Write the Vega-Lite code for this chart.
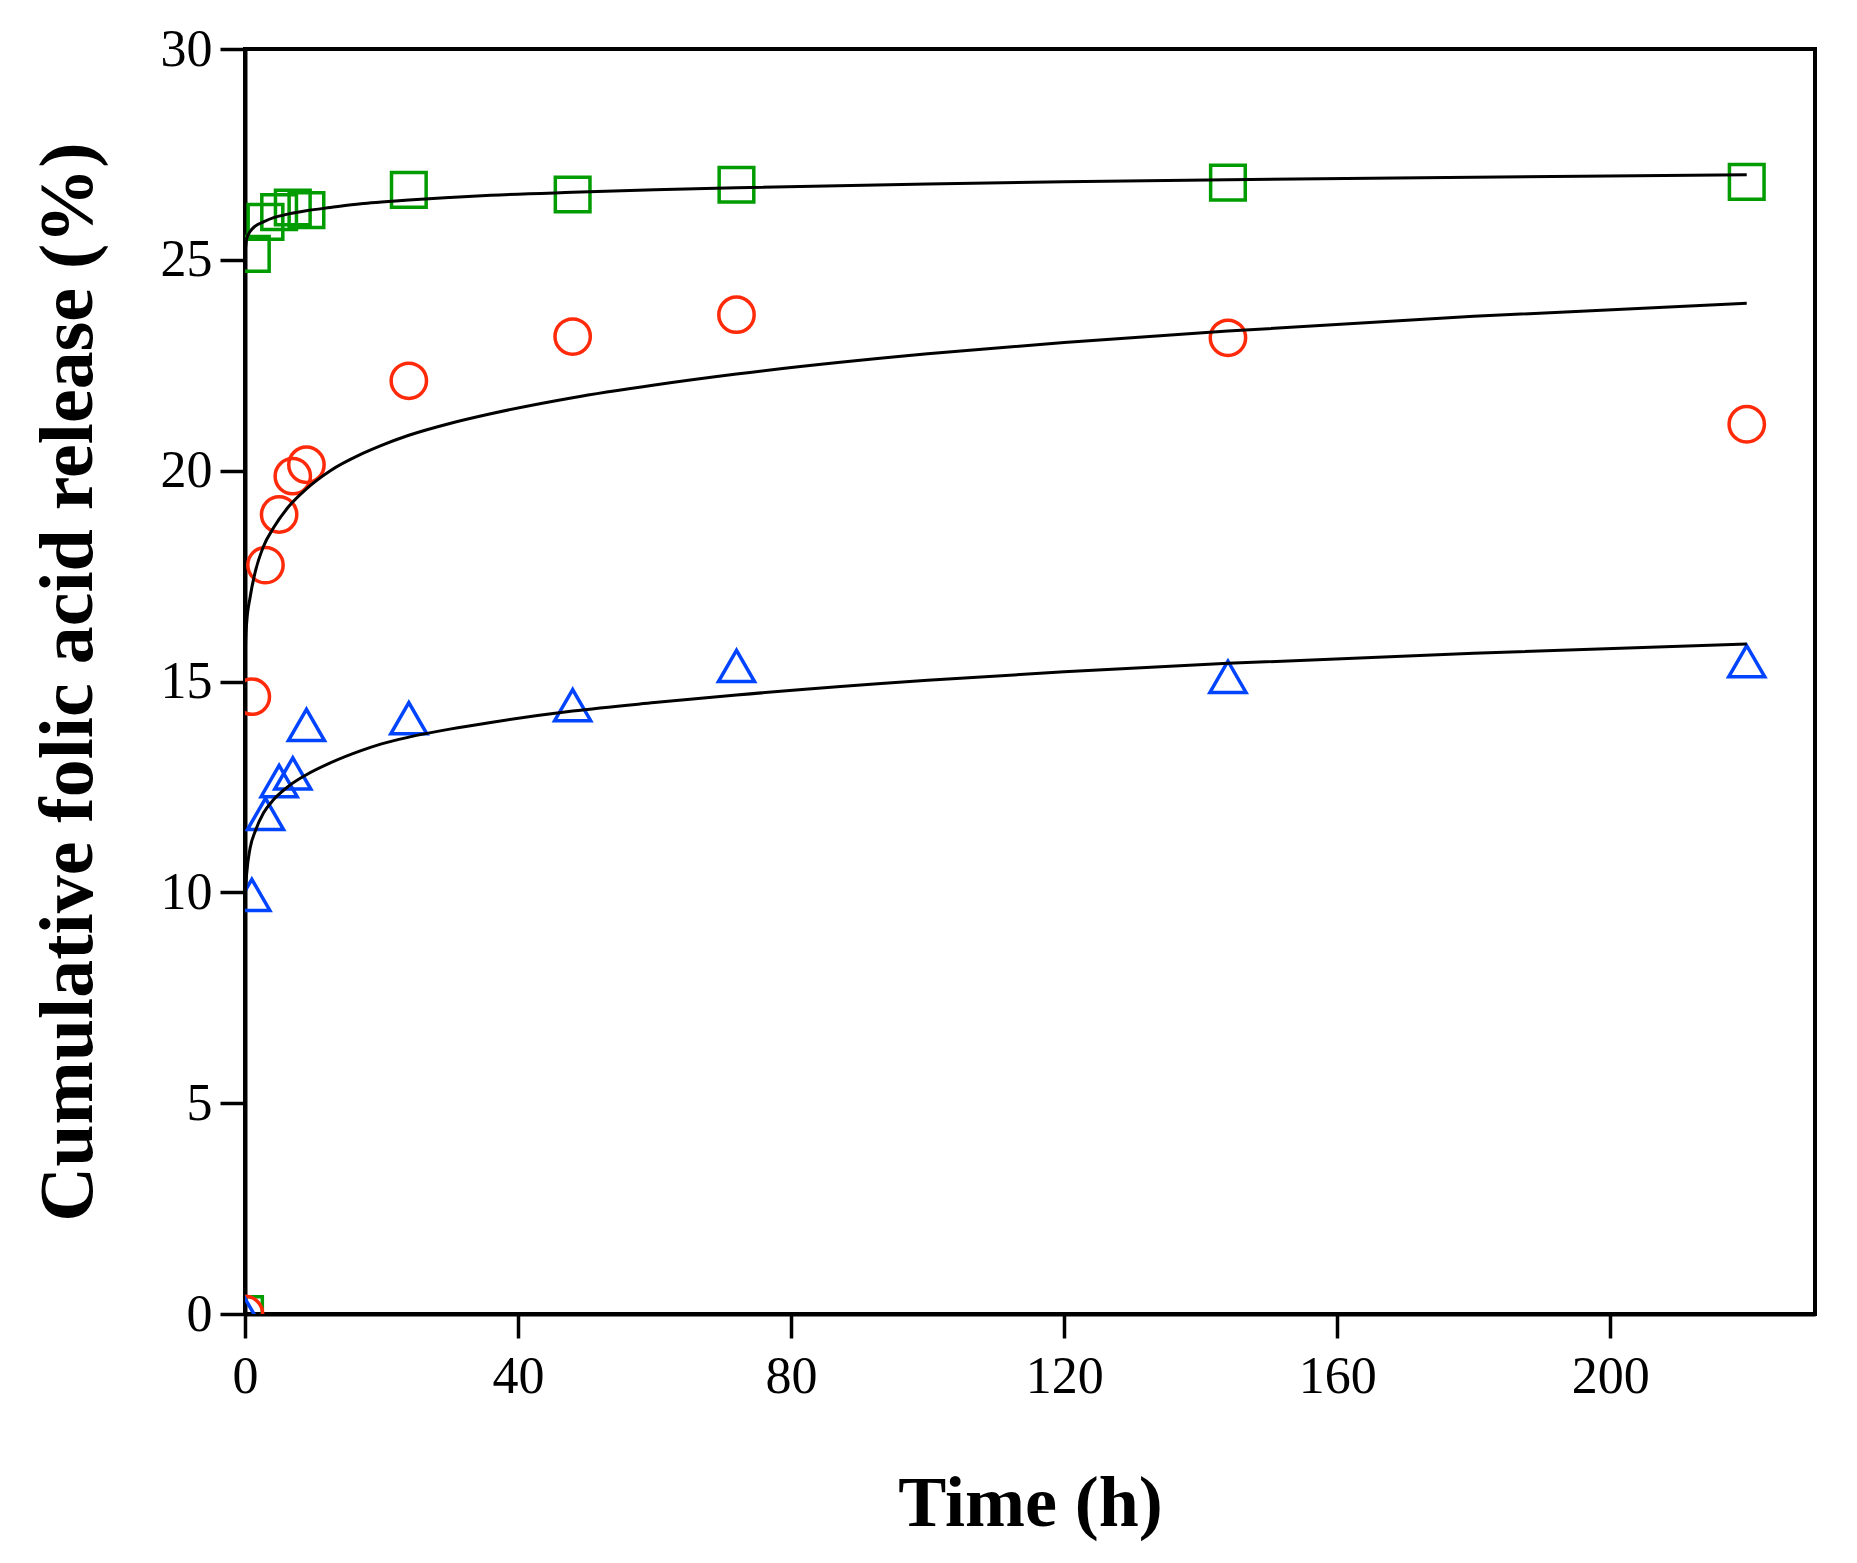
{
  "$schema": "https://vega.github.io/schema/vega-lite/v6.json",
  "width": 1570,
  "height": 1265,
  "autosize": {"type": "none"},
  "padding": {"left": 245, "top": 49, "right": 42, "bottom": 249},
  "background": "white",
  "config": {
    "view": {"stroke": "black", "strokeWidth": 4},
    "font": "Liberation Serif"
  },
  "datasets": {
    "points": [
      {"series": "S1", "time": 0, "release": 0},
      {"series": "S1", "time": 1, "release": 25.14},
      {"series": "S1", "time": 3, "release": 25.9},
      {"series": "S1", "time": 5, "release": 26.13},
      {"series": "S1", "time": 7, "release": 26.24},
      {"series": "S1", "time": 9, "release": 26.18},
      {"series": "S1", "time": 24, "release": 26.66},
      {"series": "S1", "time": 48, "release": 26.55},
      {"series": "S1", "time": 72, "release": 26.78},
      {"series": "S1", "time": 144, "release": 26.83},
      {"series": "S1", "time": 220, "release": 26.85},
      {"series": "S2", "time": 0, "release": 0},
      {"series": "S2", "time": 1, "release": 14.64},
      {"series": "S2", "time": 3, "release": 17.76},
      {"series": "S2", "time": 5, "release": 18.96},
      {"series": "S2", "time": 7, "release": 19.87},
      {"series": "S2", "time": 9, "release": 20.14},
      {"series": "S2", "time": 24, "release": 22.13},
      {"series": "S2", "time": 48, "release": 23.18},
      {"series": "S2", "time": 72, "release": 23.7},
      {"series": "S2", "time": 144, "release": 23.15},
      {"series": "S2", "time": 220, "release": 21.1},
      {"series": "S3", "time": 0, "release": 0},
      {"series": "S3", "time": 1, "release": 9.94},
      {"series": "S3", "time": 3, "release": 11.86},
      {"series": "S3", "time": 5, "release": 12.64},
      {"series": "S3", "time": 7, "release": 12.82},
      {"series": "S3", "time": 9, "release": 13.97},
      {"series": "S3", "time": 24, "release": 14.13},
      {"series": "S3", "time": 48, "release": 14.44},
      {"series": "S3", "time": 72, "release": 15.37},
      {"series": "S3", "time": 144, "release": 15.11},
      {"series": "S3", "time": 220, "release": 15.48}
    ],
    "fits": [
      {"series": "S1", "time": 0.03, "release": 25.2},
      {"series": "S1", "time": 0.25, "release": 25.5},
      {"series": "S1", "time": 0.75, "release": 25.67},
      {"series": "S1", "time": 1.5, "release": 25.8},
      {"series": "S1", "time": 2.7, "release": 25.9},
      {"series": "S1", "time": 4.2, "release": 26.0},
      {"series": "S1", "time": 6.4, "release": 26.09},
      {"series": "S1", "time": 9, "release": 26.165},
      {"series": "S1", "time": 12.5, "release": 26.24},
      {"series": "S1", "time": 17, "release": 26.33},
      {"series": "S1", "time": 20, "release": 26.37},
      {"series": "S1", "time": 24, "release": 26.42},
      {"series": "S1", "time": 30, "release": 26.48},
      {"series": "S1", "time": 36, "release": 26.53},
      {"series": "S1", "time": 48, "release": 26.6},
      {"series": "S1", "time": 60, "release": 26.66},
      {"series": "S1", "time": 72, "release": 26.71},
      {"series": "S1", "time": 100, "release": 26.8},
      {"series": "S1", "time": 120, "release": 26.85},
      {"series": "S1", "time": 144, "release": 26.9},
      {"series": "S1", "time": 180, "release": 26.96},
      {"series": "S1", "time": 220, "release": 27.02},
      {"series": "S2", "time": 0.03, "release": 15.6},
      {"series": "S2", "time": 0.1, "release": 16.0},
      {"series": "S2", "time": 0.25, "release": 16.4},
      {"series": "S2", "time": 0.75, "release": 17.0},
      {"series": "S2", "time": 1.5, "release": 17.6},
      {"series": "S2", "time": 2.7, "release": 18.2},
      {"series": "S2", "time": 4.2, "release": 18.65},
      {"series": "S2", "time": 6.4, "release": 19.15},
      {"series": "S2", "time": 9, "release": 19.57},
      {"series": "S2", "time": 12.5, "release": 20.0},
      {"series": "S2", "time": 17, "release": 20.39},
      {"series": "S2", "time": 20, "release": 20.6},
      {"series": "S2", "time": 24, "release": 20.84},
      {"series": "S2", "time": 30, "release": 21.12},
      {"series": "S2", "time": 36, "release": 21.35},
      {"series": "S2", "time": 48, "release": 21.73},
      {"series": "S2", "time": 60, "release": 22.03},
      {"series": "S2", "time": 72, "release": 22.29},
      {"series": "S2", "time": 100, "release": 22.77},
      {"series": "S2", "time": 120, "release": 23.04},
      {"series": "S2", "time": 144, "release": 23.31},
      {"series": "S2", "time": 180, "release": 23.66},
      {"series": "S2", "time": 220, "release": 23.97},
      {"series": "S3", "time": 0.03, "release": 9.8},
      {"series": "S3", "time": 0.1, "release": 10.1},
      {"series": "S3", "time": 0.25, "release": 10.45},
      {"series": "S3", "time": 0.75, "release": 11.05},
      {"series": "S3", "time": 1.5, "release": 11.45},
      {"series": "S3", "time": 2.7, "release": 11.88},
      {"series": "S3", "time": 4.2, "release": 12.2},
      {"series": "S3", "time": 6.4, "release": 12.52},
      {"series": "S3", "time": 9, "release": 12.79},
      {"series": "S3", "time": 12.5, "release": 13.07},
      {"series": "S3", "time": 17, "release": 13.36},
      {"series": "S3", "time": 20, "release": 13.52},
      {"series": "S3", "time": 24, "release": 13.68},
      {"series": "S3", "time": 30, "release": 13.87},
      {"series": "S3", "time": 36, "release": 14.03},
      {"series": "S3", "time": 48, "release": 14.3},
      {"series": "S3", "time": 60, "release": 14.5},
      {"series": "S3", "time": 72, "release": 14.68},
      {"series": "S3", "time": 100, "release": 15.03},
      {"series": "S3", "time": 120, "release": 15.23},
      {"series": "S3", "time": 144, "release": 15.43},
      {"series": "S3", "time": 180, "release": 15.67},
      {"series": "S3", "time": 220, "release": 15.89}
    ]
  },
  "layer": [
    {
      "data": {"name": "points"},
      "mark": {"type": "point", "filled": false, "strokeWidth": 3.5, "opacity": 1, "clip": true},
      "encoding": {
        "x": {
          "field": "time",
          "type": "quantitative",
          "scale": {"domain": [0, 230], "nice": false, "zero": false},
          "axis": {
            "values": [0, 40, 80, 120, 160, 200],
            "title": "Time (h)",
            "titleFont": "Liberation Serif",
            "titleFontSize": 72,
            "titleFontWeight": "bold",
            "titleColor": "black",
            "titleBaseline": "alphabetic",
            "titleY": 211,
            "labelFont": "Liberation Serif",
            "labelFontSize": 52,
            "labelColor": "black",
            "labelPadding": 13,
            "labelFlush": false,
            "tickSize": 24,
            "tickWidth": 3.5,
            "tickColor": "black",
            "domainColor": "black",
            "domainWidth": 4,
            "grid": false
          }
        },
        "y": {
          "field": "release",
          "type": "quantitative",
          "scale": {"domain": [0, 30], "nice": false},
          "axis": {
            "values": [0, 5, 10, 15, 20, 25, 30],
            "title": "Cumulative folic acid release (%)",
            "titleFont": "Liberation Serif",
            "titleFontSize": 76,
            "titleFontWeight": "bold",
            "titleColor": "black",
            "titleBaseline": "alphabetic",
            "titleX": -154,
            "labelFont": "Liberation Serif",
            "labelFontSize": 52,
            "labelColor": "black",
            "labelPadding": 8,
            "labelFlush": false,
            "tickSize": 25,
            "tickWidth": 3.5,
            "tickColor": "black",
            "domainColor": "black",
            "domainWidth": 4,
            "grid": false
          }
        },
        "color": {
          "field": "series",
          "type": "nominal",
          "scale": {"domain": ["S1", "S2", "S3"], "range": ["#009c00", "#ff2a0a", "#0044ff"]},
          "legend": null
        },
        "shape": {
          "field": "series",
          "type": "nominal",
          "scale": {"domain": ["S1", "S2", "S3"], "range": ["square", "circle", "triangle-up"]},
          "legend": null
        },
        "size": {
          "field": "series",
          "type": "nominal",
          "scale": {"domain": ["S1", "S2", "S3"], "range": [1200, 1300, 2250]},
          "legend": null
        }
      }
    },
    {
      "data": {"name": "fits"},
      "mark": {"type": "line", "color": "black", "strokeWidth": 3, "clip": true, "interpolate": "monotone"},
      "encoding": {
        "x": {"field": "time", "type": "quantitative"},
        "y": {"field": "release", "type": "quantitative"},
        "detail": {"field": "series", "type": "nominal"}
      }
    }
  ]
}
